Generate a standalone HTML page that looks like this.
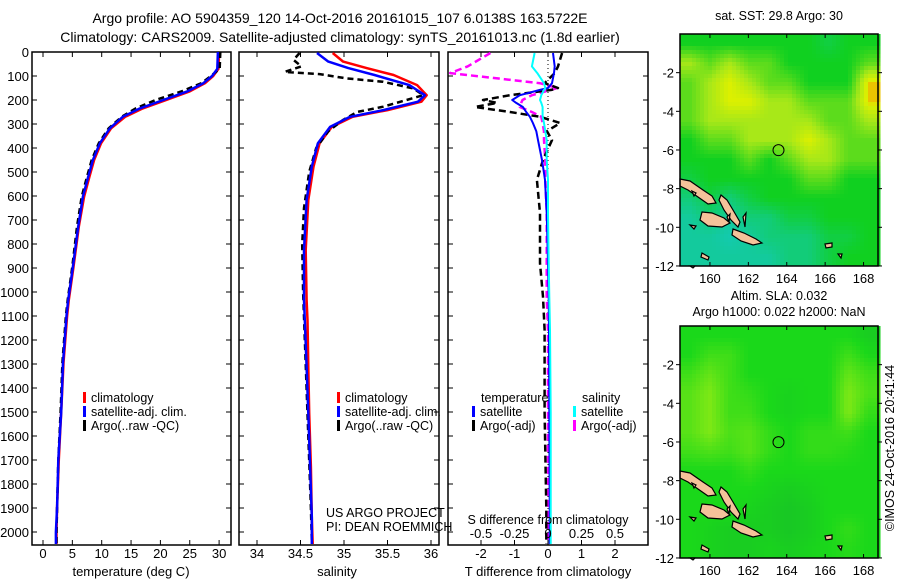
<!DOCTYPE html>
<html><head><meta charset="utf-8">
<style>
html,body{margin:0;padding:0;background:#fff;}
svg{display:block;font-family:"Liberation Sans",sans-serif;}
</style></head>
<body>
<svg id="fig" width="900" height="580" viewBox="0 0 900 580" xmlns="http://www.w3.org/2000/svg">
<text x="340" y="23" font-size="14" text-anchor="middle">Argo profile: AO 5904359_120 14-Oct-2016 20161015_107 6.0138S 163.5722E</text>
<text x="340" y="42" font-size="14" text-anchor="middle">Climatology: CARS2009. Satellite-adjusted climatology: synTS_20161013.nc (1.8d earlier)</text>
<g id="layer"></g>
</svg>
<script>
// ---------- data ----------
const depthTicks = [0,100,200,300,400,500,600,700,800,900,1000,1100,1200,1300,1400,1500,1600,1700,1800,1900,2000];
const tempTicks = [0,5,10,15,20,25,30];
const salTicks = [34,34.5,35,35.5,36];
const tdiffTicks = [-2,-1,0,1,2];
const sdiffTicks = [-0.5,-0.25,0,0.25,0.5];
const sdiffTickLabels = ["-0.5","-0.25","0","0.25","0.5"];
const lonTicks = [160,162,164,166,168];
const latTicks = [-2,-4,-6,-8,-10,-12];

const tDepth     = [0,70,100,130,165,200,235,270,318,380,450,520,603,728,895,1033,1100,1295,1500,1700,1895,2000,2050];
const tClim      = [30.0,29.9,29.0,27.6,24.9,21.0,17.0,14.0,11.6,9.9,8.7,7.9,7.0,6.1,5.2,4.4,4.1,3.5,3.1,2.7,2.4,2.3,2.3];
const tSat       = [29.8,29.7,28.8,27.3,24.5,20.5,16.5,13.6,11.4,9.7,8.5,7.7,6.8,6.0,5.1,4.3,4.0,3.4,3.1,2.6,2.4,2.2,2.2];
const tArgo      = [30.2,30.1,28.6,27.0,23.5,19.2,15.8,13.4,11.2,9.5,8.3,7.5,6.6,5.8,5.0,4.2,3.9,3.3,3.0,2.6,2.4,2.3,2.3];

const sDepth     = [4,40,67,96,138,180,207,242,270,312,380,478,617,825,1033,1117,1312,1504,1729,1937,2050];
const sClim      = [34.87,34.99,35.26,35.57,35.84,35.95,35.89,35.50,35.10,34.86,34.72,34.65,34.59,34.56,34.57,34.58,34.59,34.60,34.62,34.63,34.64];
const sSat       = [34.69,34.82,35.05,35.35,35.75,35.93,35.85,35.45,35.07,34.84,34.70,34.63,34.57,34.54,34.54,34.55,34.57,34.59,34.61,34.63,34.63];
const aDepth     = [4,33,60,83,92,110,124,152,180,200,228,250,283,330,400,500,650,800,1000,1300,1600,1900,2040];
const sArgo      = [34.49,34.42,34.51,34.32,34.72,35.03,35.45,35.80,35.91,35.72,35.45,35.15,34.99,34.82,34.68,34.60,34.54,34.52,34.53,34.56,34.59,34.62,34.63];

const dDepth     = [4,60,88,130,150,158,180,200,212,229,250,270,296,330,367,450,533,671,880,1020,1158,1500,1900,2050];
const tdSat      = [0.15,0.2,0.18,0.12,0.0,-0.24,-0.84,-1.07,-0.95,-0.75,-0.65,-0.54,-0.45,-0.35,-0.3,-0.18,-0.09,-0.04,0.0,0.02,0.03,0.04,0.05,0.05];
const tdArgo     = [0.42,0.3,0.2,-0.1,0.3,0.1,-1.13,-1.94,-1.52,-2.18,-1.13,-0.24,0.36,-0.03,0.12,-0.15,-0.33,-0.24,-0.24,-0.15,-0.1,-0.1,-0.05,-0.05];
const sdSat      = [-0.10,-0.12,-0.08,-0.03,-0.02,-0.03,-0.05,-0.06,-0.05,-0.04,-0.04,-0.04,-0.03,-0.02,-0.01,-0.01,0,0,0.005,0.01,0.015,0.02,0.02,0.02];
const sdArgo     = [-0.43,-0.60,-0.73,-0.06,0.07,0.02,-0.12,-0.19,-0.20,-0.21,-0.12,-0.05,-0.04,-0.03,-0.03,-0.02,-0.02,-0.01,-0.01,-0.01,0,0,0,0];

const sstGrid = [
[1,1,1,1,1,1,1,0.8,1,1],
[2,1.5,2,1.5,1.5,1,1,1,1,1.5],
[1.5,2,2.5,2,1.5,1.5,1,1,1,2.6],
[1.5,2,2.5,2.5,2,2,1.5,1.5,1.5,2.6],
[1.5,2,2,2,2,2,2,1.5,1.5,2],
[1,1.5,1.5,2,2,2,2.5,2,1.5,1.5],
[1,1,1,1.5,1,1.5,2,2,1.5,1.5],
[0.8,1,1,1,1,1,1.5,1.5,1,1],
[0.5,0.8,0.5,0.8,1,1,1,1,1,1],
[0.3,0.5,0.3,0.5,0.5,0.8,0.8,1,1,1],
[0.3,0.3,0.2,0.3,0.5,0.5,0.5,0.8,0.8,1],
[0.3,0.3,0.3,0.3,0.3,0.5,0.5,0.8,1,1]];
const slaGrid = [
[1,1,1,1,1,1,1,1,1,0.8],
[1,1.3,1.3,1,1,1,1,1,1.3,1],
[1.3,1.6,1.3,1,1,1,1,1,1.6,1.3],
[1.5,1.8,1.3,1.2,1,0.9,1,1,1.8,1.4],
[1.5,1.8,1.3,1.3,1,0.9,1,1,1.8,1.2],
[1.5,1.8,1.4,1.5,1.2,1,1.2,1.2,1.3,1],
[1.3,1.4,1.3,1.5,1.2,1,1.2,1.2,1.1,1],
[1,1,1,1.2,1,1,1,1,1,1],
[1,1,1,1,0.9,0.8,0.9,1,1,1],
[1,1,1,0.9,0.8,0.7,0.8,1,1,1],
[1,0.9,0.8,0.8,0.8,0.7,0.8,1,1.2,1],
[1,0.9,0.8,0.8,0.9,0.8,0.9,1,1.1,1]];
const argoLon = 163.57, argoLat = -6.01;

// ---------- helpers ----------
const NS="http://www.w3.org/2000/svg";
const layer=document.getElementById('layer');
function el(tag,attrs,parent){const e=document.createElementNS(NS,tag);for(const k in attrs)e.setAttribute(k,attrs[k]);(parent||layer).appendChild(e);return e;}
function txt(x,y,s,size,anchor,parent){const t=el('text',{x:x,y:y,'font-size':size,'text-anchor':anchor||'middle'},parent);t.textContent=s;return t;}

const PY0=52, PY1=545;
const yD = d => 52 + d*0.24;
const xT = t => 43 + t*5.87;
const xS = s => 257 + (s-34)*87;
const xTd = v => 548 + v*33.5;
const xSd = v => 548 + v*134;

function frame(x0,x1,name){
  const r=el('rect',{x:x0,y:PY0,width:x1-x0,height:PY1-PY0,fill:'none',stroke:'#000','stroke-width':1.5});
  
  
}
function line(xs,ds,xf,color,w,dash,name){
  const pts=xs.map((v,i)=>xf(v).toFixed(1)+','+yD(ds[i]).toFixed(1)).join(' ');
  const p=el('polyline',{points:pts,fill:'none',stroke:color,'stroke-width':w,'stroke-dasharray':dash||'none','stroke-linejoin':'round'});
  
  
}
function depthTicksOn(x0,x1,labels){
  depthTicks.forEach(d=>{
    el('line',{x1:x0,y1:yD(d),x2:x0+5,y2:yD(d),stroke:'#000'});
    el('line',{x1:x1-5,y1:yD(d),x2:x1,y2:yD(d),stroke:'#000'});
    if(labels){const t=txt(x0-3,yD(d)+5,String(d),13,'end');
      
      }
  });
}
function xTicksOn(ticks,xf,labelY,fmt){
  ticks.forEach((v,i)=>{
    const x=xf(v);
    el('line',{x1:x,y1:PY1,x2:x,y2:PY1-5,stroke:'#000'});
    el('line',{x1:x,y1:PY0,x2:x,y2:PY0+5,stroke:'#000'});
    if(labelY){const t=txt(x,labelY,fmt?fmt[i]:String(v),13);
      
      }
  });
}
function legend(x,y,items,name){
  const g=el('g',{});
  
  
  items.forEach((it,i)=>{
    el('rect',{x:x,y:y+i*14-10,width:3,height:11,fill:it[0]},g);
    txt(x+8,y+i*14,it[1],12.5,'start',g);
  });
}

// ---------- panel 1: temperature ----------
frame(32,231,'temperature-panel');
depthTicksOn(32,231,true);
xTicksOn(tempTicks,xT,558);
line(tClim,tDepth,xT,'#f00',2.5,null,'temp-climatology-line');
line(tArgo,tDepth,xT,'#000',2.5,'6,4','temp-argo-line');
line(tSat,tDepth,xT,'#00f',2.5,null,'temp-satellite-line');
legend(83,402,[['#f00','climatology'],['#00f','satellite-adj. clim.'],['#000','Argo(..raw -QC)']],'temperature-legend');
{const t=txt(131,576,'temperature (deg C)',13);}

// ---------- panel 2: salinity ----------
frame(239,439,'salinity-panel');
depthTicksOn(239,439,false);
xTicksOn(salTicks,xS,558);
line(sClim,sDepth,xS,'#f00',2.5,null,'salinity-climatology-line');
line(sArgo,aDepth,xS,'#000',2.5,'6,4','salinity-argo-line');
line(sSat,sDepth,xS,'#00f',2.5,null,'salinity-satellite-line');
legend(337,402,[['#f00','climatology'],['#00f','satellite-adj. clim.'],['#000','Argo(..raw -QC)']],'salinity-legend');
{const t=txt(326,517,'US ARGO PROJECT',12.5,'start');
 const t2=txt(326,531,'PI: DEAN ROEMMICH',12.5,'start');
 const t3=txt(337,576,'salinity',13);}

// ---------- panel 3: differences ----------
frame(448,648,'difference-panel');
depthTicksOn(448,648,false);
xTicksOn(tdiffTicks,xTd,558);
el('line',{x1:548,y1:PY0,x2:548,y2:PY1,stroke:'#000','stroke-dasharray':'1,3'});
line(sdArgo,dDepth,xSd,'#f0f',2.5,'7,4','s-diff-argo-line');
line(tdArgo,dDepth,xTd,'#000',2.5,'7,4','t-diff-argo-line');
line(tdSat,dDepth,xTd,'#00f',2,null,'t-diff-satellite-line');
line(sdSat,dDepth,xSd,'#0ff',2,null,'s-diff-satellite-line');
sdiffTicks.forEach((v,i)=>{const t=txt(xSd(v),538,sdiffTickLabels[i],13);
  });
{const t=txt(548,524,'S difference from climatology',12.5);
 const t2=txt(548,576,'T difference from climatology',13);
 const h1=txt(481,402,'temperature',12.5,'start');
 const h2=txt(582,402,'salinity',12.5,'start');}
legend(472,416,[['#00f','satellite'],['#000','Argo(-adj)']],'t-diff-legend');
legend(573,416,[['#0ff','satellite'],['#f0f','Argo(-adj)']],'s-diff-legend');

// ---------- maps ----------
const MX0=680, MX1=878, MW=MX1-MX0;
const lonX = lo => MX0 + (lo-158.44)*19.2;
function lerpC(a,b,t){return a.map((v,i)=>Math.round(v+(b[i]-v)*t));}
function cmap(v,stops){
  for(let i=0;i<stops.length-1;i++){
    if(v<=stops[i+1][0]){const t=(v-stops[i][0])/(stops[i+1][0]-stops[i][0]);return lerpC(stops[i][1],stops[i+1][1],Math.max(0,Math.min(1,t)));}
  }
  return stops[stops.length-1][1];
}
function sampleGrid(g,fx,fy){
  const gx=Math.max(0,Math.min(9,fx*10-0.5)), gy=Math.max(0,Math.min(11,fy*12-0.5));
  const x0=Math.floor(gx),y0=Math.floor(gy),x1=Math.min(9,x0+1),y1=Math.min(11,y0+1);
  const tx=gx-x0,ty=gy-y0;
  return g[y0][x0]*(1-tx)*(1-ty)+g[y0][x1]*tx*(1-ty)+g[y1][x0]*(1-tx)*ty+g[y1][x1]*tx*ty;
}
const islands = [
 "M680,179 L690,181 L703,190 L712,196 L716,203 L708,204 L698,197 L688,190 L680,186 Z",
 "M721,195 L727,200 L733,210 L740,222 L738,227 L731,220 L724,210 L719,200 Z",
 "M702,212 L712,213 L724,218 L730,223 L722,227 L708,226 L700,220 Z",
 "M733,229 L744,233 L756,239 L762,243 L753,245 L741,241 L732,235 Z",
 "M692,191 L696,193 L694,196 Z",
 "M690,225 L696,226 L694,229 Z",
 "M690,266 L695,266 L693,268 Z",
 "M702,253 L709,257 L708,260 L701,257 Z",
 "M825,244 L832,243 L832,247 L826,248 Z",
 "M838,254 L842,254 L841,258 Z",
 "M727,217 L730,214 L729,222 Z",
 "M743,217 L746,213 L745,227 Z"
];
function drawMap(y0,grid,stops,name,title1,title2){
  const H=232;
  const g=el('g',{});
  
  
  const cs=4;
  for(let yy=0;yy<H;yy+=cs){
    for(let xx=0;xx<MW;xx+=cs){
      const v=sampleGrid(grid,(xx+cs/2)/MW,(yy+cs/2)/H);
      const c=cmap(v,stops);
      el('rect',{x:MX0+xx,y:y0+yy,width:cs+0.5,height:Math.min(cs,H-yy)+0.5,fill:'rgb('+c.join(',')+')'},g);
    }
  }
  islands.forEach(d=>{
    const p=el('path',{d:d,fill:'#f4c29a',stroke:'#000','stroke-width':1.2,transform:'translate(0,'+(y0-34)+')'},g);
  });
  const cx=lonX(argoLon), cy=y0+(-argoLat)*19.33;
  const c=el('circle',{cx:cx,cy:cy,r:5.5,fill:'none',stroke:'#000','stroke-width':1},g);
  
  
  el('rect',{x:MX0,y:y0,width:MW,height:H,fill:'none',stroke:'#000','stroke-width':1.5},g);
  lonTicks.forEach(lo=>{
    const x=lonX(lo);
    el('line',{x1:x,y1:y0,x2:x,y2:y0+4,stroke:'#000'},g);
    el('line',{x1:x,y1:y0+H,x2:x,y2:y0+H-4,stroke:'#000'},g);
    const t=txt(x,y0+H+17,String(lo),13,'middle',g);
    
    
  });
  latTicks.forEach(la=>{
    const y=y0+(-la)*19.33;
    el('line',{x1:MX0-4,y1:y,x2:MX0,y2:y,stroke:'#000'},g);
    el('line',{x1:MX1,y1:y,x2:MX1+4,y2:y,stroke:'#000'},g);
    const t=txt(MX0-6,y+5,String(la),13,'end',g);
    
    
  });
}
const sstStops=[[0,[20,200,210]],[1,[16,208,32]],[2,[168,232,24]],[2.5,[220,240,0]],[2.7,[250,150,0]]];
const slaStops=[[0,[20,160,60]],[1,[26,216,26]],[2,[150,236,20]]];
drawMap(34,sstGrid,sstStops,'sst-map');
drawMap(326,slaGrid,slaStops,'sla-map');
{const t=txt(779,20,'sat. SST: 29.8 Argo: 30',12.5);
 const t2=txt(779,300,'Altim. SLA: 0.032',12.5);
 const t3=txt(779,316,'Argo h1000: 0.022 h2000: NaN',12.5);
 const t4=txt(0,0,'©IMOS 24-Oct-2016 20:41:44',12.5);t4.setAttribute('transform','translate(894,448) rotate(-90)');
 }
</script>
</body></html>
